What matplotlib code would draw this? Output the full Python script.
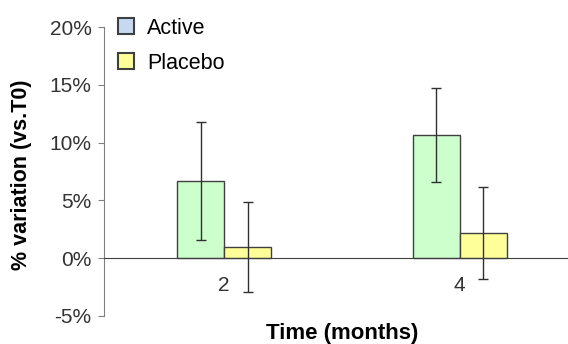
import matplotlib.pyplot as plt
from matplotlib.patches import Patch
import numpy as np

months = ['2', '4']
active = [6.7, 10.65]
active_err = [5.1, 4.05]
placebo = [0.95, 2.2]
placebo_err = [3.9, 4.0]

plt.rcParams['font.family'] = ['Liberation Sans', 'DejaVu Sans']

fig = plt.figure(figsize=(5.68, 3.44), dpi=100)
ax = fig.add_axes([0.183, 0.0814, 0.817, 0.8401])

x = np.arange(len(months))
w = 0.2
ax.bar(x - w / 2, active, w, color='#ccffcc', edgecolor='#404040', linewidth=1.0, zorder=2)
ax.bar(x + w / 2, placebo, w, color='#ffff99', edgecolor='#404040', linewidth=1.0, zorder=2)
ax.errorbar(x - w / 2, active, yerr=active_err, fmt='none', ecolor='#303030',
            elinewidth=1.0, capsize=3.5, capthick=1.0, zorder=3)
ax.errorbar(x + w / 2, placebo, yerr=placebo_err, fmt='none', ecolor='#303030',
            elinewidth=1.0, capsize=3.5, capthick=1.0, zorder=3)

ax.set_xlim(-0.51, 1.46)
ax.set_ylim(-5, 20)
ax.set_yticks([-5, 0, 5, 10, 15, 20])
ax.set_yticklabels(['-5%', '0%', '5%', '10%', '15%', '20%'])
ax.set_xticks(x)
ax.set_xticklabels(months)

ax.spines['top'].set_visible(False)
ax.spines['right'].set_visible(False)
ax.spines['left'].set_color('#808080')
ax.spines['bottom'].set_position(('data', 0))
ax.spines['bottom'].set_color('#404040')
ax.spines['bottom'].set_zorder(4)

ax.tick_params(axis='y', length=4, color='#808080', labelsize=15, labelcolor='#333333', pad=5)
ax.tick_params(axis='x', length=0, labelsize=15, labelcolor='#333333', pad=13)

ax.set_ylabel('% variation (vs.T0)', fontsize=15.5, fontweight='bold')
ax.set_xlabel('Time (months)', fontsize=16, fontweight='bold')
ax.yaxis.set_label_coords(-0.177, 0.49)
ax.yaxis.label.set_va('center')
ax.xaxis.set_label_coords(0.513, -0.06)
ax.xaxis.label.set_va('center')

handles = [Patch(facecolor='#c6d9f1', edgecolor='#404040', linewidth=1.5),
           Patch(facecolor='#ffff99', edgecolor='#404040', linewidth=1.5)]
ax.legend(handles, ['Active', 'Placebo'], loc='upper left', bbox_to_anchor=(0.208, 0.948),
          bbox_transform=fig.transFigure, frameon=False, fontsize=15.5,
          handlelength=0.75, handleheight=0.75, handletextpad=0.6, labelspacing=0.65,
          borderaxespad=0, borderpad=0)

fig.savefig('out.png', dpi=100)
